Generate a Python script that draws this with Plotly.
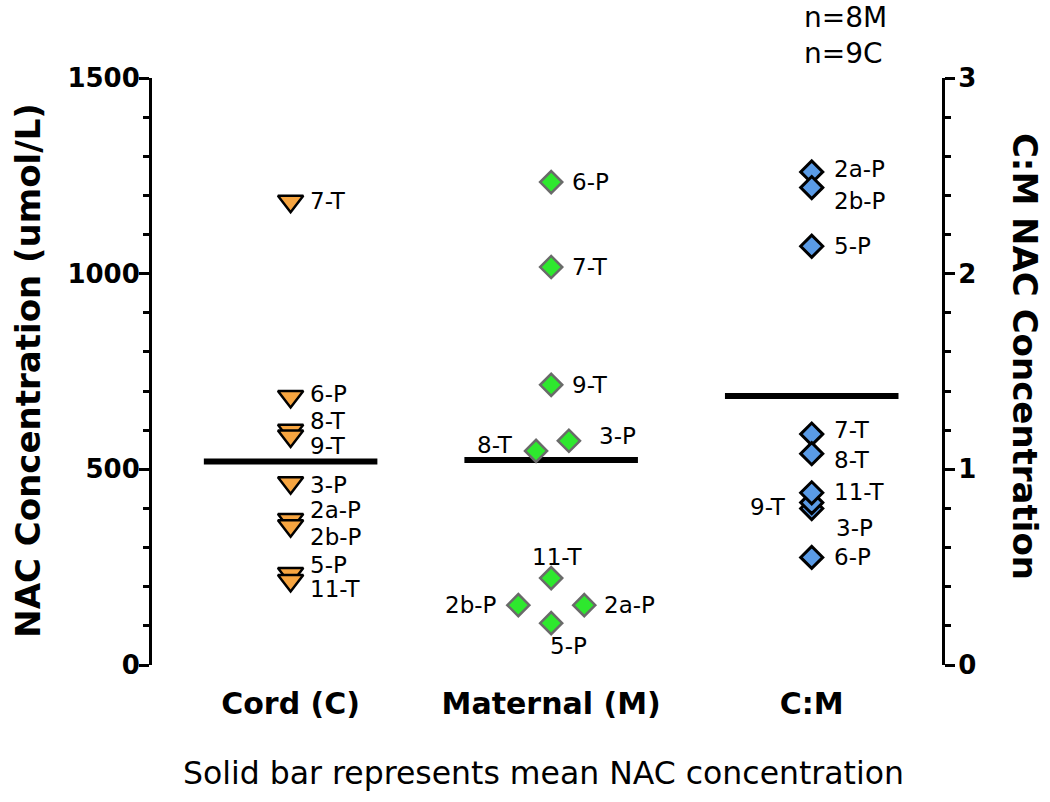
import plotly.graph_objects as go

# ---------------- data ----------------
categories = ["Cord (C)", "Maternal (M)", "C:M"]

cord_labels = ["7-T", "6-P", "8-T", "9-T", "3-P", "2a-P", "2b-P", "5-P", "11-T"]
cord_values = [1185, 686, 600, 585, 466, 372, 356, 234, 216]

maternal_labels = ["6-P", "7-T", "9-T", "3-P", "8-T", "11-T", "2b-P", "2a-P", "5-P"]
maternal_values = [1234, 1017, 716, 573, 547, 222, 153, 153, 107]
maternal_jitter = [0, 0, 0, 0.068, -0.058, 0, -0.126, 0.127, 0]

ratio_labels = ["2a-P", "2b-P", "5-P", "7-T", "8-T", "3-P", "9-T", "11-T", "6-P"]
ratio_values = [2.52, 2.44, 2.14, 1.18, 1.08, 0.80, 0.83, 0.88, 0.55]

mean_values = [520, 524, 1.375]

left_ticks = [0, 500, 1000, 1500]
right_ticks = [0, 1, 2, 3]

n_text = ["n=8M", "n=9C"]
footnote = "Solid bar represents mean NAC concentration"
left_title = "NAC Concentration (umol/L)"
right_title = "C:M NAC Concentration"

# ---------------- label placement (pixel offsets, styling) ----------------
cord_offsets = {
    "7-T": (18, 0, "left"), "6-P": (18, -3, "left"), "8-T": (18, -9, "left"),
    "9-T": (18, 10, "left"), "3-P": (18, 2, "left"), "2a-P": (18, -9, "left"),
    "2b-P": (18, 11, "left"), "5-P": (18, -8, "left"), "11-T": (18, 9, "left"),
}
maternal_offsets = {
    "6-P": (20, 0, "left"), "7-T": (20, 0, "left"), "9-T": (20, 0, "left"),
    "3-P": (29, -5, "left"), "8-T": (-22, -6, "right"), "11-T": (6, -21, "center"),
    "2b-P": (-20, 0, "right"), "2a-P": (19, 0, "left"), "5-P": (17, 23, "center"),
}
ratio_offsets = {
    "2a-P": (21, -3, "left"), "2b-P": (21, 13, "left"), "5-P": (21, 0, "left"),
    "7-T": (21, -4, "left"), "8-T": (21, 6, "left"), "11-T": (21, -1, "left"),
    "9-T": (-25, 4, "right"), "3-P": (23, 20, "left"), "6-P": (21, 0, "left"),
}

FONT = "DejaVu Sans"
LABEL_SIZE = 23

fig = go.Figure()

# mean bars
half = 0.333
for i, m in enumerate(mean_values):
    fig.add_trace(go.Scatter(
        x=[i - half, i + half], y=[m, m], mode="lines",
        line=dict(color="black", width=6),
        yaxis="y2" if i == 2 else "y", showlegend=False, hoverinfo="skip"))

# cord points
fig.add_trace(go.Scatter(
    x=[0] * len(cord_values), y=cord_values, mode="markers",
    marker=dict(symbol="triangle-down", size=22, color="#F7A540",
                line=dict(color="black", width=2.5)),
    showlegend=False))

# maternal points
fig.add_trace(go.Scatter(
    x=[1 + j for j in maternal_jitter], y=maternal_values, mode="markers",
    marker=dict(symbol="diamond", size=17, color="#2EE82E",
                line=dict(color="#6A6A6A", width=2.5)),
    showlegend=False))

# ratio points
fig.add_trace(go.Scatter(
    x=[2] * len(ratio_values), y=ratio_values, mode="markers", yaxis="y2",
    marker=dict(symbol="diamond", size=17, color="#5A9BE6",
                line=dict(color="black", width=3)),
    showlegend=False))

annotations = []


def add_labels(labels, values, xs, offsets, yref):
    for lab, val, xv in zip(labels, values, xs):
        dx, dy, anchor = offsets[lab]
        annotations.append(dict(
            x=xv, y=val, xref="x", yref=yref, text=lab, showarrow=False,
            xanchor=anchor, yanchor="middle", xshift=dx, yshift=-dy,
            borderpad=0,
            font=dict(family=FONT, size=LABEL_SIZE, color="black")))


add_labels(cord_labels, cord_values, [0] * len(cord_values), cord_offsets, "y")
add_labels(maternal_labels, maternal_values, [1 + j for j in maternal_jitter],
           maternal_offsets, "y")
add_labels(ratio_labels, ratio_values, [2] * len(ratio_values), ratio_offsets, "y2")

# titles & notes
annotations.append(dict(
    x=-0.157, y=0.503, xref="paper", yref="paper", text=left_title,
    textangle=-90, showarrow=False, xanchor="center", yanchor="middle",
    font=dict(family=FONT, size=34, color="black", weight="bold")))
annotations.append(dict(
    x=1.105, y=0.525, xref="paper", yref="paper", text=right_title,
    textangle=90, showarrow=False, xanchor="center", yanchor="middle",
    font=dict(family=FONT, size=34, color="black", weight="bold")))
annotations.append(dict(
    x=0.496, y=-0.184, xref="paper", yref="paper", text=footnote,
    showarrow=False, xanchor="center", yanchor="middle",
    font=dict(family=FONT, size=31.5, color="black")))
annotations.append(dict(
    x=0.823, y=1.135, xref="paper", yref="paper", text="<br>".join(n_text),
    showarrow=False, xanchor="left", yanchor="top", align="left",
    font=dict(family=FONT, size=28, color="black")))

fig.update_layout(
    width=1050, height=802,
    margin=dict(l=152, r=108, t=78, b=137, autoexpand=False),
    paper_bgcolor="white", plot_bgcolor="white",
    font=dict(family=FONT, color="black"),
    annotations=annotations,
    xaxis=dict(
        range=[-0.532, 2.5], tickmode="array", tickvals=[0, 1, 2],
        ticktext=categories, showline=False, showgrid=False, zeroline=False,
        ticks="", ticklabelstandoff=18, automargin=False,
        tickfont=dict(family=FONT, size=30, color="black", weight="bold")),
    yaxis=dict(
        range=[0, 1500], tickmode="array", tickvals=left_ticks,
        showline=True, linecolor="black", linewidth=3, showgrid=False,
        zeroline=False, ticks="outside", ticklen=10, tickwidth=3,
        tickcolor="black", ticklabelstandoff=-6, automargin=False,
        minor=dict(dtick=100, ticks="outside", ticklen=6, tickwidth=3,
                   tickcolor="black", showgrid=False),
        tickfont=dict(family=FONT, size=26, color="black", weight="bold")),
    yaxis2=dict(
        range=[0, 3], tickmode="array", tickvals=right_ticks,
        overlaying="y", side="right", anchor="x",
        showline=True, linecolor="black", linewidth=3, showgrid=False,
        zeroline=False, ticks="outside", ticklen=10, tickwidth=3,
        tickcolor="black", ticklabelstandoff=-2, automargin=False,
        minor=dict(dtick=0.2, ticks="outside", ticklen=6, tickwidth=3,
                   tickcolor="black", showgrid=False),
        tickfont=dict(family=FONT, size=26, color="black", weight="bold")),
)

fig.write_html("out.html",
               config={"displayModeBar": False},
               post_script="document.body.style.margin='0';"
                           "document.body.style.overflow='hidden';")
